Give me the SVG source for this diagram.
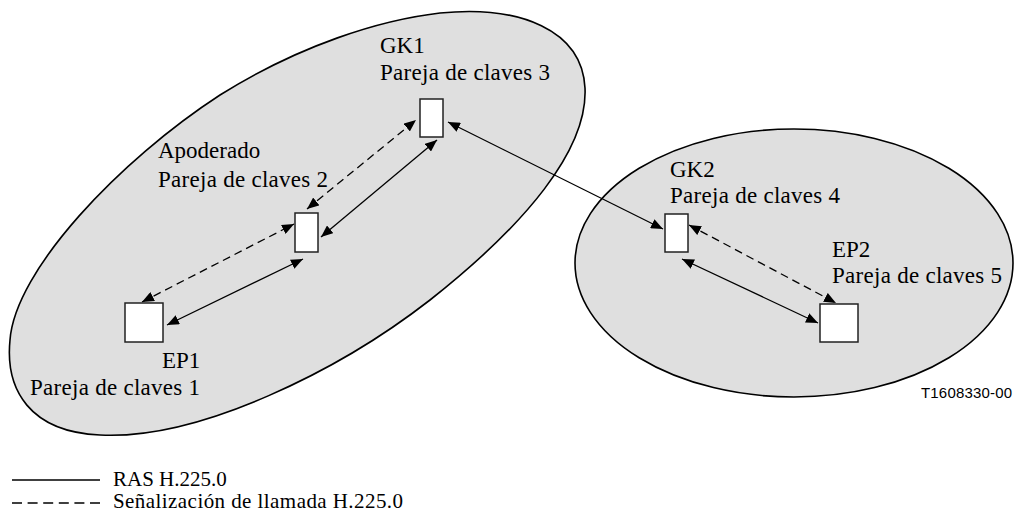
<svg xmlns="http://www.w3.org/2000/svg" width="1014" height="513" viewBox="0 0 1014 513">
  <style>
    .zone { fill: #dfdfdf; stroke: #000; stroke-width: 1.6; }
    .box { fill: #fff; stroke: #222; stroke-width: 1.5; }
    .lbl { font-family: "Liberation Serif", "Times New Roman", serif; font-size: 23px; fill: #000; }
    .key { font-family: "Liberation Serif", "Times New Roman", serif; font-size: 21px; fill: #000; }
    .ref { font-family: "Liberation Sans", Arial, sans-serif; font-size: 15px; fill: #000; }
    .ras { fill: none; stroke: #000; stroke-width: 1.3; marker-start: url(#tip); marker-end: url(#tip); }
    .sig { fill: none; stroke: #000; stroke-width: 1.3; stroke-dasharray: 8 5; marker-start: url(#tip); marker-end: url(#tip); }
  </style>
  <defs>
    <marker id="tip" viewBox="0 0 12 10" refX="12" refY="5" markerWidth="12" markerHeight="10" markerUnits="userSpaceOnUse" orient="auto-start-reverse">
      <path d="M0,0 L12,5 L0,10 Z" fill="#000"/>
    </marker>
  </defs>

  <!-- zones -->
  <g id="zone1">
    <path class="zone" d="M440,13 C520,5 582,30 585,88 C588,150 525,225 430,300 C340,370 200,440 100,435 C30,432 5,390 10,340 C15,270 120,160 220,95 C300,45 380,20 440,13 Z"/>
  </g>
  <g id="zone2">
    <ellipse class="zone" cx="794" cy="263" rx="219" ry="134"/>
  </g>

  <!-- connectors -->
  <g id="connectors">
    <line class="sig" x1="307" y1="209" x2="416" y2="120"/>
    <line class="ras" x1="321" y1="237" x2="437" y2="140"/>
    <line class="sig" x1="142" y1="302" x2="294" y2="224"/>
    <line class="ras" x1="167" y1="325" x2="303" y2="259"/>
    <line class="ras" x1="448" y1="122" x2="663" y2="229"/>
    <line class="sig" x1="689" y1="225" x2="836" y2="303"/>
    <line class="ras" x1="682" y1="259" x2="818" y2="323"/>
  </g>

  <!-- nodes -->
  <g id="gk1">
    <rect class="box" x="420" y="99" width="23" height="38"/>
    <text class="lbl" x="380" y="53">GK1</text>
    <text class="lbl" x="380" y="80" textLength="170">Pareja de claves 3</text>
  </g>
  <g id="proxy">
    <rect class="box" x="295" y="213" width="23" height="39"/>
    <text class="lbl" x="158" y="158">Apoderado</text>
    <text class="lbl" x="158" y="187" textLength="170">Pareja de claves 2</text>
  </g>
  <g id="ep1">
    <rect class="box" x="125" y="303" width="38" height="39"/>
    <text class="lbl" x="162" y="368">EP1</text>
    <text class="lbl" x="30" y="395" textLength="170">Pareja de claves 1</text>
  </g>
  <g id="gk2">
    <rect class="box" x="665" y="214" width="23" height="38"/>
    <text class="lbl" x="670" y="177">GK2</text>
    <text class="lbl" x="670" y="203" textLength="170">Pareja de claves 4</text>
  </g>
  <g id="ep2">
    <rect class="box" x="820" y="304" width="38" height="38"/>
    <text class="lbl" x="832" y="257">EP2</text>
    <text class="lbl" x="832" y="283" textLength="170">Pareja de claves 5</text>
  </g>

  <text class="ref" x="921" y="398" textLength="91">T1608330-00</text>

  <!-- legend -->
  <g id="legend">
    <line x1="12" y1="480" x2="100" y2="480" stroke="#000" stroke-width="1.5"/>
    <text class="key" x="113" y="486">RAS H.225.0</text>
    <line x1="12" y1="503" x2="100" y2="503" stroke="#000" stroke-width="1.5" stroke-dasharray="10 5.6"/>
    <text class="key" x="113" y="508" textLength="290">Señalización de llamada H.225.0</text>
  </g>
</svg>
